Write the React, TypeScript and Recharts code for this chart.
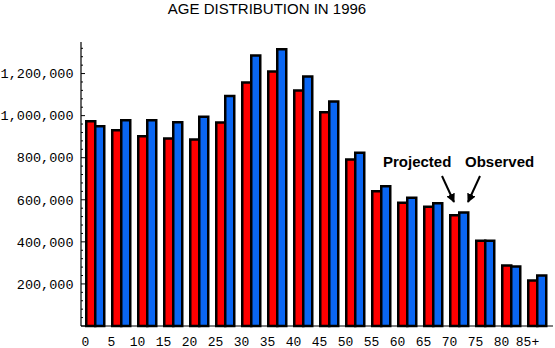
import React from 'react';
import { BarChart, Bar, XAxis, YAxis } from 'recharts';

const ageGroups = ['0', '5', '10', '15', '20', '25', '30', '35', '40', '45', '50', '55', '60', '65', '70', '75', '80', '85+'];
const projected = [973000, 931000, 902000, 891000, 886000, 967000, 1157000, 1210000, 1119000, 1016000, 791000, 640000, 586000, 567000, 526000, 405000, 288000, 216000];
const observed = [950000, 978000, 978000, 969000, 995000, 1093000, 1286000, 1316000, 1186000, 1067000, 824000, 664000, 610000, 583000, 540000, 405000, 283000, 240000];
const yMajorTicks = [200000, 400000, 600000, 800000, 1000000, 1200000];
const yMinorStep = 40000;
const yMax = 1350000;

const data = ageGroups.map((age, i) => ({ age, projected: projected[i], observed: observed[i] }));
const yTicks = Array.from({ length: Math.floor(yMax / yMinorStep) + 1 }, (_, i) => i * yMinorStep);

const mono = '"Liberation Mono", "Courier New", monospace';
const sans = '"Liberation Sans", Arial, Helvetica, sans-serif';

const YTick = (props: any) => {
  const { x, y, payload } = props;
  const v = payload.value as number;
  const major = v % 200000 === 0;
  return (
    <g>
      <line x1={x} x2={x + (major ? 4 : 2)} y1={y} y2={y} stroke="#000" strokeWidth={1} />
      {major && yMajorTicks.includes(v) && (
        <text x={x - 7.5} y={y} dy="0.35em" textAnchor="end" fontFamily={mono} fontSize={13.5} fill="#000">
          {v.toLocaleString('en-US')}
        </text>
      )}
    </g>
  );
};

const XTick = (props: any) => {
  const { x, y, payload } = props;
  return (
    <text x={x - 10} y={y + 19.5} textAnchor="middle" fontFamily={mono} fontSize={13} fill="#000">
      {payload.value}
    </text>
  );
};

const App: React.FC = () => {
  return (
    <div style={{ position: 'absolute', left: 0, top: 0, width: 555, height: 348, background: '#fff' }}>
      <BarChart
        width={555}
        height={348}
        data={data}
        margin={{ top: 42, right: 2, bottom: 0, left: 0 }}
        barGap={0}
        barCategoryGap={3.75}
      >
        <XAxis
          dataKey="age"
          height={22}
          padding={{ left: 1.5, right: 2.5 }}
          tickLine={false}
          tickSize={0}
          tickMargin={0}
          interval={0}
          tick={<XTick />}
          axisLine={{ stroke: '#000', strokeWidth: 1.2 }}
        />
        <YAxis
          width={81}
          domain={[0, yMax]}
          ticks={yTicks}
          interval={0}
          tickLine={false}
          tickSize={0}
          tickMargin={0}
          tick={<YTick />}
          axisLine={{ stroke: '#000', strokeWidth: 1.2 }}
        />
        <Bar dataKey="projected" fill="#ff0000" stroke="#000" strokeWidth={2.5} isAnimationActive={false} />
        <Bar dataKey="observed" fill="#0a66f2" stroke="#000" strokeWidth={2.5} isAnimationActive={false} />
      </BarChart>
      <svg width={555} height={348} style={{ position: 'absolute', left: 0, top: 0, pointerEvents: 'none' }}>
        <defs>
          <marker id="arrowHead" viewBox="0 0 10 10" refX="9" refY="5" markerWidth="4.5" markerHeight="4.5" orient="auto" markerUnits="strokeWidth">
            <path d="M0,0 L10,5 L0,10 z" fill="#000" />
          </marker>
        </defs>
        <text x={267} y={13.5} textAnchor="middle" fontFamily={sans} fontSize={15} fill="#000">
          AGE DISTRIBUTION IN 1996
        </text>
        <text x={383} y={167} fontFamily={sans} fontSize={15} fontWeight="bold" fill="#000">
          Projected
        </text>
        <text x={465} y={167} fontFamily={sans} fontSize={15} fontWeight="bold" fill="#000">
          Observed
        </text>
        <line x1={442} y1={176} x2={454} y2={202} stroke="#000" strokeWidth={2} markerEnd="url(#arrowHead)" />
        <line x1={480} y1={176} x2={468} y2={202} stroke="#000" strokeWidth={2} markerEnd="url(#arrowHead)" />
      </svg>
    </div>
  );
};

export default App;
